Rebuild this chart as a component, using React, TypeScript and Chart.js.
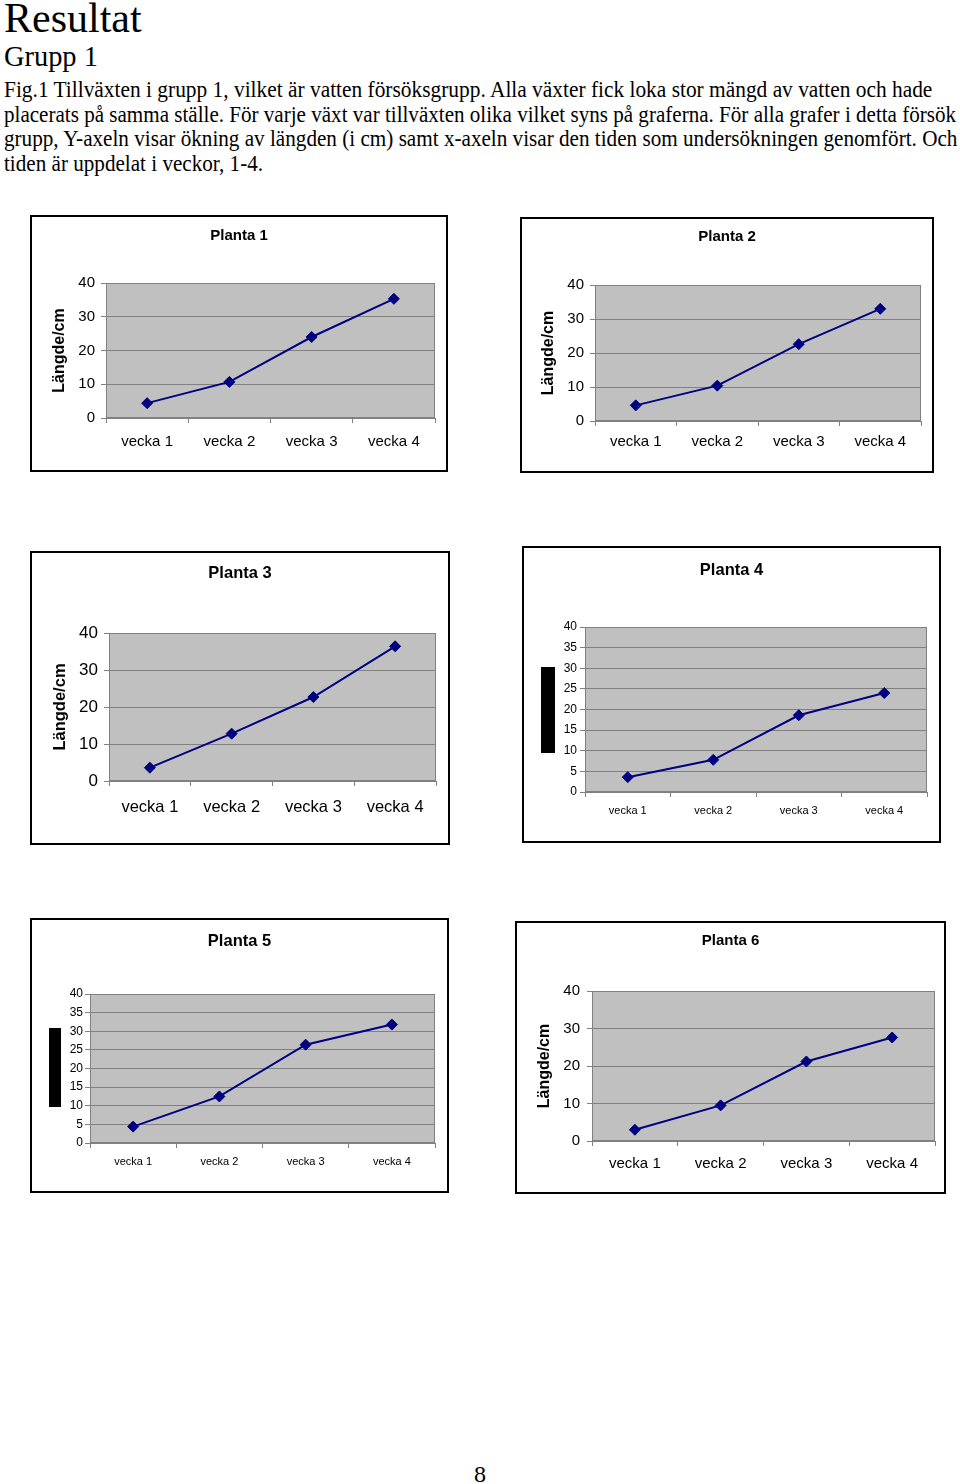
import React, { useEffect, useLayoutEffect, useRef, useState } from "react";
import { Chart, registerables } from "chart.js";

Chart.register(...registerables);

// ---------- data ----------
const weeks = ["vecka 1", "vecka 2", "vecka 3", "vecka 4"];
const planta1 = [4.4, 10.7, 24.0, 35.3];
const planta2 = [4.6, 10.4, 22.6, 33.0];
const planta3 = [3.6, 12.8, 22.7, 36.4];
const planta4 = [3.6, 7.8, 18.6, 24.0];
const planta5 = [4.4, 12.5, 26.4, 31.8];
const planta6 = [3.0, 9.5, 21.2, 27.6];
const chartTitles = ["Planta 1", "Planta 2", "Planta 3", "Planta 4", "Planta 5", "Planta 6"];
const yAxisTitle = "Längde/cm";
const yMin = 0;
const yMax = 40;
const stepWide = 10;
const stepFine = 5;

// ---------- text ----------
const heading = "Resultat";
const subHeading = "Grupp 1";
const paragraphLines = [
  "Fig.1 Tillväxten i grupp 1, vilket är vatten försöksgrupp. Alla växter fick loka stor mängd av vatten och hade",
  "placerats på samma ställe. För varje växt var tillväxten olika vilket syns på graferna. För alla grafer i detta försök",
  "grupp, Y-axeln visar ökning av längden (i cm) samt x-axeln visar den tiden som undersökningen genomfört. Och",
  "tiden är uppdelat i veckor, 1-4.",
];
const pageNumber = "8";

// ---------- styles / layout ----------
const SANS = "'Liberation Sans', Arial, sans-serif";
const SERIF = "'Liberation Serif', 'Times New Roman', serif";
const BORDER = 2;
const LINE_COLOR = "#000080";
const GRID_COLOR = "#808080";
const PLOT_BG = "#c0c0c0";
const TICK_LEN = 5;

type Font = { family: string; size: number; weight?: string };
type Spec = {
  data: number[];
  title: string;
  box: [number, number, number, number];
  plot: [number, number, number, number];
  titleY: number;
  titleFont: Font;
  yTickFont: Font;
  xTickFont: Font;
  yTickGap: number;
  xLabelY: number;
  step: number;
  yTitle?: { x: number; font: Font };
  blackBar?: [number, number, number, number];
};

const specs: Spec[] = [
  {
    data: planta1, title: chartTitles[0],
    box: [30, 215, 448, 472], plot: [106, 283, 435, 418],
    titleY: 235.5, titleFont: { family: SANS, size: 15, weight: "bold" },
    yTickFont: { family: SANS, size: 15 }, xTickFont: { family: SANS, size: 15 },
    yTickGap: 11, xLabelY: 441.5, step: stepWide,
    yTitle: { x: 59.5, font: { family: SANS, size: 16, weight: "bold" } },
  },
  {
    data: planta2, title: chartTitles[1],
    box: [520, 217, 934, 473], plot: [595, 285, 921, 421],
    titleY: 237, titleFont: { family: SANS, size: 15, weight: "bold" },
    yTickFont: { family: SANS, size: 15 }, xTickFont: { family: SANS, size: 15 },
    yTickGap: 11, xLabelY: 442, step: stepWide,
    yTitle: { x: 548.5, font: { family: SANS, size: 16, weight: "bold" } },
  },
  {
    data: planta3, title: chartTitles[2],
    box: [30, 551, 450, 845], plot: [109, 633, 436, 781],
    titleY: 573, titleFont: { family: SANS, size: 16.5, weight: "bold" },
    yTickFont: { family: SANS, size: 17 }, xTickFont: { family: SANS, size: 16.5 },
    yTickGap: 11, xLabelY: 807, step: stepWide,
    yTitle: { x: 60, font: { family: SANS, size: 16.5, weight: "bold" } },
  },
  {
    data: planta4, title: chartTitles[3],
    box: [522, 546, 941, 843], plot: [585, 627, 927, 792],
    titleY: 570, titleFont: { family: SANS, size: 16.5, weight: "bold" },
    yTickFont: { family: SANS, size: 12 }, xTickFont: { family: SANS, size: 11 },
    yTickGap: 8, xLabelY: 811, step: stepFine,
    blackBar: [541, 667, 555, 753],
  },
  {
    data: planta5, title: chartTitles[4],
    box: [30, 918, 449, 1193], plot: [90, 994, 435, 1143],
    titleY: 941, titleFont: { family: SANS, size: 16.5, weight: "bold" },
    yTickFont: { family: SANS, size: 12 }, xTickFont: { family: SANS, size: 11 },
    yTickGap: 7, xLabelY: 1162, step: stepFine,
    blackBar: [49, 1028, 61, 1107],
  },
  {
    data: planta6, title: chartTitles[5],
    box: [515, 921, 946, 1194], plot: [592, 991, 935, 1141],
    titleY: 941, titleFont: { family: SANS, size: 15, weight: "bold" },
    yTickFont: { family: SANS, size: 15 }, xTickFont: { family: SANS, size: 15 },
    yTickGap: 12, xLabelY: 1164, step: stepWide,
    yTitle: { x: 545, font: { family: SANS, size: 16, weight: "bold" } },
  },
];

const plotBgPlugin = {
  id: "plotBg",
  beforeDraw(chart: any) {
    const { ctx, chartArea: a } = chart;
    ctx.save();
    ctx.fillStyle = PLOT_BG;
    ctx.fillRect(a.left, a.top, a.right - a.left, a.bottom - a.top);
    ctx.restore();
  },
  beforeDatasetsDraw(chart: any) {
    const { ctx, chartArea: a } = chart;
    ctx.save();
    ctx.strokeStyle = GRID_COLOR;
    ctx.lineWidth = 1;
    ctx.strokeRect(Math.round(a.left) + 0.5, Math.round(a.top) + 0.5, Math.round(a.right - a.left) - 1, Math.round(a.bottom - a.top) - 1);
    ctx.restore();
  },
};

function PlantChart({ spec }: { spec: Spec }) {
  const ref = useRef<HTMLCanvasElement>(null);
  const [bl, bt, br, bb] = spec.box;
  const ox = bl + BORDER;
  const oy = bt + BORDER;
  const cw = br - bl - 2 * BORDER;
  const ch = bb - bt - 2 * BORDER;

  useEffect(() => {
    if (!ref.current) return;
    const [pl, pt, pr, pb] = spec.plot;
    const lhT = spec.titleFont.size * 1.2;
    const tPadTop = spec.titleY - oy - lhT / 2;
    const tPadBottom = pt - oy - tPadTop - lhT;
    const xPad = spec.xLabelY - pb - TICK_LEN - (spec.xTickFont.size * 1.2) / 2;
    const yTitleOpt = spec.yTitle
      ? {
          display: true,
          text: yAxisTitle,
          color: "#000",
          font: { ...spec.yTitle.font, lineHeight: 1.2 },
          padding: { top: spec.yTitle.x - ox - (spec.yTitle.font.size * 1.2) / 2, bottom: 0 },
        }
      : { display: false };

    const chart = new Chart(ref.current, {
      type: "line",
      data: {
        labels: weeks,
        datasets: [
          {
            data: spec.data,
            borderColor: LINE_COLOR,
            backgroundColor: LINE_COLOR,
            borderWidth: 2,
            pointStyle: "rectRot",
            pointRadius: 5.5,
            pointBackgroundColor: LINE_COLOR,
            pointBorderColor: LINE_COLOR,
            pointBorderWidth: 1,
            tension: 0,
            fill: false,
          },
        ],
      },
      options: {
        animation: false,
        responsive: false,
        maintainAspectRatio: false,
        devicePixelRatio: 1,
        layout: { padding: 0 },
        plugins: {
          legend: { display: false },
          tooltip: { enabled: false },
          title: {
            display: true,
            text: spec.title,
            color: "#000",
            font: { ...spec.titleFont, lineHeight: 1.2 },
            padding: { top: tPadTop, bottom: tPadBottom },
          },
        },
        scales: {
          x: {
            type: "category",
            offset: true,
            grid: {
              display: true,
              offset: true,
              drawOnChartArea: false,
              drawTicks: true,
              tickLength: TICK_LEN,
              color: GRID_COLOR,
            },
            border: { display: true, color: GRID_COLOR },
            ticks: {
              color: "#000",
              font: { ...spec.xTickFont, lineHeight: 1.2 },
              padding: xPad,
              maxRotation: 0,
              autoSkip: false,
            },
            afterFit: (s: any) => {
              s.height = oy + ch - pb;
            },
          },
          y: {
            type: "linear",
            min: yMin,
            max: yMax,
            position: "left",
            grid: { color: GRID_COLOR, drawTicks: true, tickLength: TICK_LEN },
            border: { display: true, color: GRID_COLOR },
            ticks: {
              stepSize: spec.step,
              color: "#000",
              font: { ...spec.yTickFont, lineHeight: 1.2 },
              padding: spec.yTickGap - TICK_LEN,
            },
            title: yTitleOpt as any,
            afterFit: (s: any) => {
              s.width = pl - ox;
            },
          },
          yRight: {
            type: "linear",
            position: "right",
            display: true,
            grid: { display: false, drawTicks: false },
            ticks: { display: false },
            border: { display: false },
            afterFit: (s: any) => {
              s.width = ox + cw - pr;
            },
          },
        },
      } as any,
      plugins: [plotBgPlugin],
    });
    return () => chart.destroy();
  }, [spec]);

  return (
    <>
      <div
        style={{
          position: "absolute",
          left: bl,
          top: bt,
          width: br - bl,
          height: bb - bt,
          border: `${BORDER}px solid #000`,
          boxSizing: "border-box",
          background: "#fff",
        }}
      >
        <canvas ref={ref} width={cw} height={ch} style={{ display: "block", width: cw, height: ch }} />
      </div>
      {spec.blackBar && (
        <div
          style={{
            position: "absolute",
            left: spec.blackBar[0],
            top: spec.blackBar[1],
            width: spec.blackBar[2] - spec.blackBar[0],
            height: spec.blackBar[3] - spec.blackBar[1],
            background: "#000",
          }}
        />
      )}
    </>
  );
}

function FitLine({ text, left, baseline, width, size }: { text: string; left: number; baseline: number; width: number; size: number }) {
  const ref = useRef<HTMLSpanElement>(null);
  const [k, setK] = useState(1);
  useLayoutEffect(() => {
    if (!ref.current) return;
    const w = ref.current.offsetWidth;
    if (w > 0) setK(width / w);
  }, [text, width, size]);
  return (
    <span
      ref={ref}
      style={{
        position: "absolute",
        left,
        top: baseline - 0.8375 * size,
        fontFamily: SERIF,
        fontSize: size,
        lineHeight: 1,
        whiteSpace: "nowrap",
        display: "inline-block",
        transformOrigin: "0 0",
        transform: `scaleX(${k})`,
        color: "#000",
      }}
    >
      {text}
    </span>
  );
}

const paraBaselines = [97.5, 122, 146.5, 171];
const paraWidths = [928, 952, 953, 259];

export default function App() {
  return (
    <div
      style={{
        position: "absolute",
        left: 0,
        top: 0,
        width: 960,
        height: 1484,
        overflow: "hidden",
        background: "#fff",
      }}
    >
      <FitLine text={heading} left={4} baseline={32} width={138} size={42} />
      <FitLine text={subHeading} left={4} baseline={66} width={94} size={29} />
      {paragraphLines.map((t, i) => (
        <FitLine key={i} text={t} left={4} baseline={paraBaselines[i]} width={paraWidths[i]} size={23} />
      ))}
      {specs.map((s, i) => (
        <PlantChart key={i} spec={s} />
      ))}
      <div
        style={{
          position: "absolute",
          left: 430,
          width: 100,
          top: 1482 - 0.8375 * 24,
          textAlign: "center",
          fontFamily: SERIF,
          fontSize: 24,
          lineHeight: 1,
          color: "#000",
        }}
      >
        {pageNumber}
      </div>
    </div>
  );
}
